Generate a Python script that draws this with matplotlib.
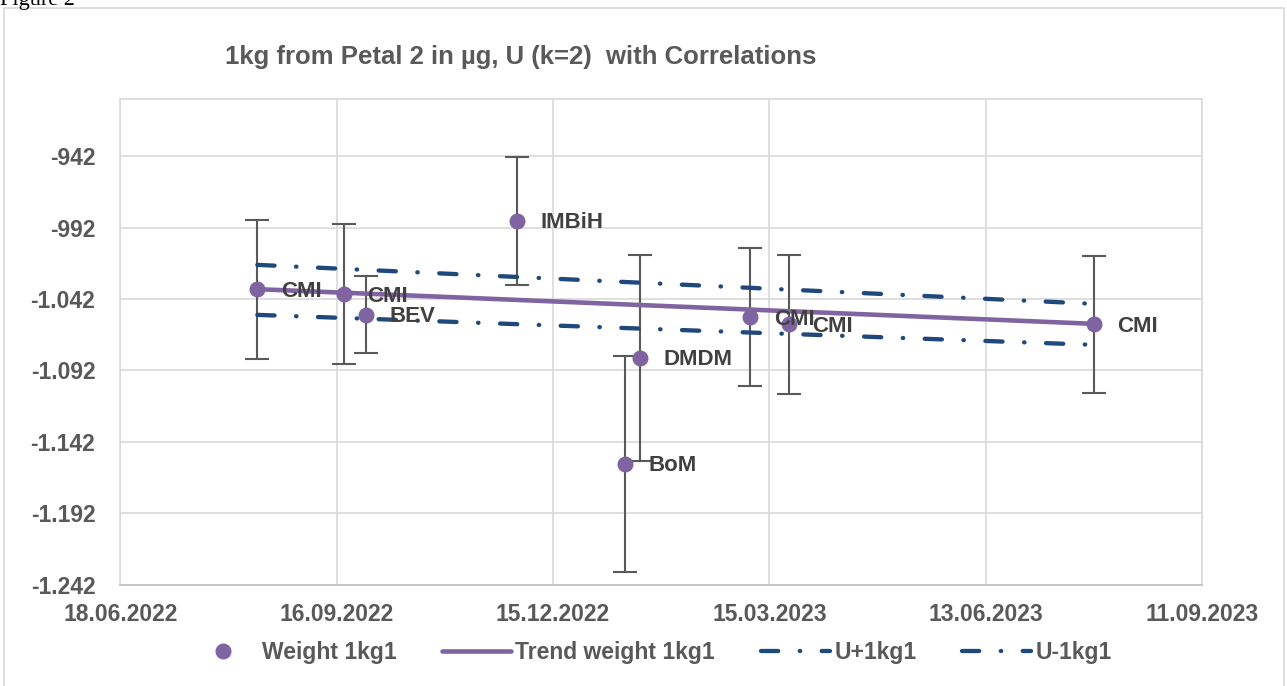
import matplotlib
matplotlib.use("Agg")
import matplotlib.pyplot as plt
import matplotlib.dates as mdates
from matplotlib.patches import Rectangle
from matplotlib.ticker import FuncFormatter, MultipleLocator
from datetime import datetime, timedelta

# data
dates = ["14.08.2022", "19.09.2022", "28.09.2022", "30.11.2022", "14.01.2023",
         "20.01.2023", "07.03.2023", "23.03.2023", "28.07.2023"]
labels = ["CMI", "CMI", "BEV", "IMBiH", "BoM", "DMDM", "CMI", "CMI", "CMI"]
weight = [-1035.3, -1038.5, -1053.0, -987.3, -1157.4, -1083.1, -1054.6, -1059.8, -1059.8]
unc = [48.5, 49.0, 27.0, 45.0, 75.5, 72.0, 48.5, 48.5, 48.0]

trend_dates = ["14.08.2022", "28.07.2023"]
trend = [-1035.1, -1059.4]
u_plus = [-1018.1, -1045.4]
u_minus = [-1053.1, -1074.1]

tick_start = "18.06.2022"
tick_count = 6
tick_step_days = 90

purple = "#8064A2"
navy = "#1F497D"
grey_txt = "#595959"
label_txt = "#404040"
grid_c = "#D9D9D9"

plt.rcParams['font.family'] = ['Liberation Sans', 'DejaVu Sans']
plt.rcParams['font.weight'] = 'bold'


def to_dt(s):
    return datetime.strptime(s, "%d.%m.%Y")


x = [to_dt(d) for d in dates]
xt = [to_dt(d) for d in trend_dates]
t0 = to_dt(tick_start)
ticks = [t0 + timedelta(days=tick_step_days * i) for i in range(tick_count)]

fig = plt.figure(figsize=(12.87, 6.86), dpi=100)
ax = fig.add_axes([120.3 / 1287, 1 - 584.7 / 686, (1202.1 - 120.3) / 1287, (584.7 - 99) / 686])

# chart border + cut-off caption at the very top
fig.patches.append(Rectangle((4 / 1287, -0.01), (1284 - 4) / 1287, 1.01 - 8 / 686,
                             transform=fig.transFigure, fill=False, edgecolor=grid_c, lw=1.2))
fig.text(0.0, 1 - 5 / 686, "Figure 2", family="Liberation Serif", fontweight="normal",
         fontsize=16, va="baseline")

dash_pat = (4.0, 5.0, 0.1, 5.0)
ax.errorbar(x, weight, yerr=unc, fmt="none", ecolor=grey_txt, elinewidth=1.5,
            capsize=8.5, capthick=1.5, zorder=3)
lp, = ax.plot(xt, u_plus, color=navy, lw=3.1, dashes=dash_pat,
              dash_capstyle="round", zorder=4, label="U+1kg1")
lm, = ax.plot(xt, u_minus, color=navy, lw=3.1, dashes=dash_pat,
              dash_capstyle="round", zorder=4, label="U-1kg1")
lt, = ax.plot(xt, trend, color=purple, lw=3.3, solid_capstyle="round", zorder=5,
              label="Trend weight 1kg1")
pts, = ax.plot(x, weight, "o", color=purple, ms=10.5, zorder=6, label="Weight 1kg1")

for xi, yi, lab in zip(x, weight, labels):
    ax.annotate(lab, (xi, yi), xytext=(17, -1.5), textcoords="offset points",
                va="center", ha="left", fontsize=16, fontweight="bold",
                color=label_txt, zorder=7)

ax.set_xlim(ticks[0], ticks[-1])
ax.set_xticks(ticks)
ax.xaxis.set_major_formatter(mdates.DateFormatter("%d.%m.%Y"))
ax.set_ylim(-1242, -902)
ax.yaxis.set_major_locator(MultipleLocator(50, offset=8))
ax.yaxis.set_major_formatter(FuncFormatter(lambda v, p: f"{v:,.0f}".replace(",", ".")))

ax.grid(True, color=grid_c, lw=1.2)
ax.set_axisbelow(True)
for s in ax.spines.values():
    s.set_color(grid_c)
    s.set_linewidth(1.2)
ax.spines["bottom"].set_color("#BFBFBF")
ax.tick_params(length=0, labelsize=16.5, labelcolor=grey_txt)
ax.tick_params(axis="x", pad=13)
ax.tick_params(axis="y", pad=18)

fig.text(521 / 1287, 1 - 57 / 686, "1kg from Petal 2 in µg, U (k=2)  with Correlations",
         ha="center", va="center", fontsize=18.5, fontweight="bold", color=grey_txt)

fig.legend(handles=[pts, lt, lp, lm], loc="center", bbox_to_anchor=(650 / 1287, 1 - 653 / 686),
           ncol=4, frameon=False, handlelength=3.0, columnspacing=2.0, handletextpad=0.2,
           prop={"size": 16.5, "weight": "bold"}, labelcolor=grey_txt)

fig.savefig("out.png", dpi=100)
